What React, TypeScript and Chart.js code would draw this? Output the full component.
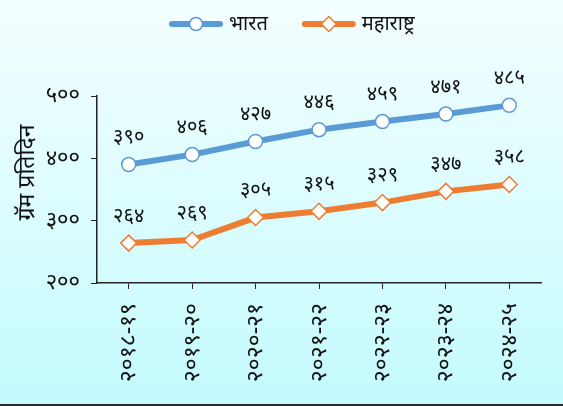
import React, { useEffect, useRef } from "react";
import { Chart, registerables } from "chart.js";

Chart.register(...registerables);

const CATEGORIES = ["२०१८-१९", "२०१९-२०", "२०२०-२१", "२०२१-२२", "२०२२-२३", "२०२३-२४", "२०२४-२५"];
const INDIA = [390, 406, 427, 446, 459, 471, 485];
const MAHARASHTRA = [264, 269, 305, 315, 329, 347, 358];
const SERIES_NAMES = ["भारत", "महाराष्ट्र"];
const Y_TITLE = "ग्रॅम प्रतिदिन";
const Y_MIN = 200;
const Y_MAX = 500;
const Y_STEP = 100;

const BLUE = "#5B9BD5";
const ORANGE = "#ED7D31";
const FONT = "'Noto Sans', 'DejaVu Sans', sans-serif";

const DEV = "०१२३४५६७८९";
const toDev = (n: number | string) => String(n).replace(/[0-9]/g, (d) => DEV[Number(d)]);

const customPlugin = {
  id: "custom",
  afterDraw(chart: any) {
    const ctx = chart.ctx;
    const area = chart.chartArea;
    ctx.save();
    // data labels
    ctx.font = `20px ${FONT}`;
    ctx.fillStyle = "#111";
    ctx.textAlign = "center";
    ctx.textBaseline = "middle";
    chart.data.datasets.forEach((ds: any, i: number) => {
      const meta = chart.getDatasetMeta(i);
      meta.data.forEach((el: any, j: number) => {
        ctx.fillText(toDev(ds.data[j]), el.x, el.y - 27);
      });
    });
    // y title
    ctx.save();
    ctx.translate(27, (area.top + area.bottom) / 2 - 17);
    ctx.rotate(-Math.PI / 2);
    ctx.font = `23px ${FONT}`;
    ctx.textAlign = "center";
    ctx.textBaseline = "middle";
    ctx.fillText(Y_TITLE, 0, 0);
    ctx.restore();
    // legend
    ctx.font = `20px ${FONT}`;
    const lineW = 54;
    const gapText = 6;
    const gapItem = 34;
    const widths = SERIES_NAMES.map((s) => ctx.measureText(s).width);
    let x = 169;
    const y = 24;
    chart.data.datasets.forEach((ds: any, i: number) => {
      ctx.strokeStyle = ds.borderColor;
      ctx.lineWidth = 6;
      ctx.lineCap = "round";
      ctx.beginPath();
      ctx.moveTo(x + 3, y);
      ctx.lineTo(x + lineW - 3, y);
      ctx.stroke();
      const cx = x + lineW / 2;
      ctx.fillStyle = "#fff";
      ctx.lineWidth = 1.5;
      ctx.beginPath();
      if (i === 0) {
        ctx.arc(cx, y, 6.5, 0, Math.PI * 2);
      } else {
        ctx.moveTo(cx, y - 7.5);
        ctx.lineTo(cx + 7.5, y);
        ctx.lineTo(cx, y + 7.5);
        ctx.lineTo(cx - 7.5, y);
        ctx.closePath();
      }
      ctx.fill();
      ctx.stroke();
      ctx.fillStyle = "#111";
      ctx.textAlign = "left";
      ctx.textBaseline = "middle";
      ctx.fillText(SERIES_NAMES[i], x + lineW + gapText, y);
      x += lineW + gapText + widths[i] + gapItem;
    });
    ctx.restore();
  },
};

export default function App() {
  const ref = useRef<HTMLCanvasElement>(null);
  useEffect(() => {
    document.body.style.margin = "0";
    const chart = new Chart(ref.current!, {
      type: "line",
      data: {
        labels: CATEGORIES,
        datasets: [
          {
            label: SERIES_NAMES[0],
            data: INDIA,
            borderColor: BLUE,
            backgroundColor: "#fff",
            borderWidth: 6,
            pointStyle: "circle",
            pointRadius: 7,
            pointBorderWidth: 1.5,
            pointBackgroundColor: "#fff",
            pointBorderColor: BLUE,
            tension: 0,
          },
          {
            label: SERIES_NAMES[1],
            data: MAHARASHTRA,
            borderColor: ORANGE,
            backgroundColor: "#fff",
            borderWidth: 6,
            pointStyle: "rectRot",
            pointRadius: 8,
            pointBorderWidth: 1.5,
            pointBackgroundColor: "#fff",
            pointBorderColor: ORANGE,
            tension: 0,
          },
        ],
      },
      options: {
        animation: false,
        responsive: false,
        maintainAspectRatio: false,
        layout: { padding: { top: 96, right: 22, left: 0, bottom: 0 } },
        plugins: { legend: { display: false }, tooltip: { enabled: false } },
        scales: {
          x: {
            offset: true,
            grid: { drawOnChartArea: false, drawTicks: true, tickLength: 6, color: "#222", offset: false },
            border: { color: "#222", width: 1.5 },
            ticks: {
              minRotation: 90,
              maxRotation: 90,
              padding: 14,
              color: "#111",
              font: { family: FONT, size: 23 },
            },
            afterFit: (s: any) => {
              s.height = 121;
            },
          },
          y: {
            min: Y_MIN,
            max: Y_MAX,
            grid: { drawOnChartArea: false, drawTicks: true, tickLength: 6, color: "#222" },
            border: { color: "#222", width: 1.5 },
            ticks: {
              stepSize: Y_STEP,
              padding: 11,
              color: "#111",
              font: { family: FONT, size: 22 },
              callback: (v: any) => toDev(v),
            },
            afterFit: (s: any) => {
              s.width = 97;
            },
          },
        },
      },
      plugins: [customPlugin],
    });
    return () => chart.destroy();
  }, []);
  return (
    <div
      style={{
        width: 563,
        height: 406,
        boxSizing: "border-box",
        borderBottom: "2px solid #2a2a2a",
        background: "linear-gradient(to bottom, #f4feff 0%, #c4fbfe 100%)",
      }}
    >
      <canvas ref={ref} width={563} height={404} style={{ display: "block" }} />
    </div>
  );
}
